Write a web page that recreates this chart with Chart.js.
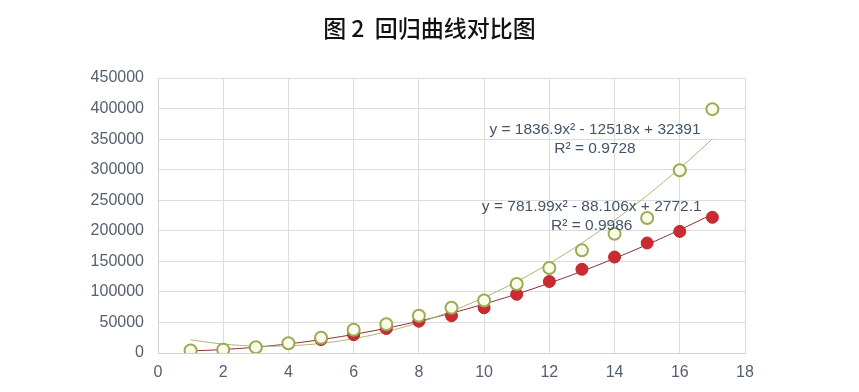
<!DOCTYPE html>
<html>
<head>
<meta charset="utf-8">
<script src="https://cdn.jsdelivr.net/npm/chart.js@4.4.1/dist/chart.umd.min.js"></script>
<style>
  html, body { margin: 0; padding: 0; background: #fff; }
  #wrap { width: 859px; height: 392px; }
</style>
</head>
<body>
<div id="wrap"><canvas id="chart" width="859" height="392"></canvas></div>
<script>
// Data
const xValues = [1, 2, 3, 4, 5, 6, 7, 8, 9, 10, 11, 12, 13, 14, 15, 16, 17];
const greenValues = [4000, 5500, 9500, 16000, 25000, 38000, 47000, 61000, 74000, 86000, 113000, 139000, 168000, 195000, 221000, 299000, 399000];
const redValues = [3500, 6000, 9000, 15500, 22000, 30000, 40000, 52000, 61000, 74000, 96000, 117000, 137000, 157000, 180000, 199000, 222000];

// Trendline coefficients as printed on the chart (a, b, c of ax^2 + bx + c)
const greenFit = [1836.9, -12518, 32391];
const redFit = [781.99, -88.106, 2772.1];
const greenLabel = ['y = 1836.9x² - 12518x + 32391', 'R² = 0.9728'];
const redLabel = ['y = 781.99x² - 88.106x + 2772.1', 'R² = 0.9986'];
const greenLabelAt = [13.4, 365000];
const redLabelAt = [13.3, 240000];
const titleText = '图 2  回归曲线对比图';

const toPoints = (ys) => xValues.map((x, i) => ({ x: x, y: ys[i] }));

// curve of the printed trendline, sampled along the x range
function trendPoints(c) {
  const pts = [];
  for (let x = xValues[0]; x <= xValues[xValues.length - 1] + 1e-9; x += 0.25) {
    pts.push({ x: x, y: c[0] * x * x + c[1] * x + c[2] });
  }
  return pts;
}

// title centred on the whole canvas, trendline equations in data coordinates
const labelPlugin = {
  id: 'trendLabels',
  afterDatasetsDraw(chart) {
    const ctx = chart.ctx;
    const xs = chart.scales.x, ys = chart.scales.y;
    ctx.save();
    ctx.textAlign = 'center';
    ctx.textBaseline = 'middle';
    ctx.fillStyle = '#111';
    ctx.font = '500 23px "Noto Sans CJK SC", sans-serif';
    ctx.fillText(titleText, chart.width / 2, 28);

    ctx.fillStyle = '#44546a';
    ctx.font = '15.5px "Liberation Sans", Arial, sans-serif';
    [[greenLabel, greenLabelAt], [redLabel, redLabelAt]].forEach(([lines, at]) => {
      const px = xs.getPixelForValue(at[0]);
      const py = ys.getPixelForValue(at[1]);
      lines.forEach((t, i) => ctx.fillText(t, px, py + i * 19));
    });
    ctx.restore();
  }
};

const tickFont = { family: '"Liberation Sans", Arial, sans-serif', size: 16 };

const ctx = document.getElementById('chart').getContext('2d');
new Chart(ctx, {
  type: 'scatter',
  data: {
    datasets: [
      {
        label: 'green',
        data: toPoints(greenValues),
        pointRadius: 6,
        pointBorderWidth: 2,
        pointBorderColor: '#9aab55',
        pointBackgroundColor: '#fbfbea',
        order: 1,
      },
      {
        label: 'red',
        data: toPoints(redValues),
        pointRadius: 6,
        pointBorderWidth: 1,
        pointBorderColor: '#b52a2f',
        pointBackgroundColor: '#cc2a30',
        order: 2,
      },
      {
        label: 'green trend',
        data: trendPoints(greenFit),
        showLine: true,
        pointRadius: 0,
        borderColor: '#a8b870',
        borderWidth: 1,
        tension: 0.3,
        order: 3,
      },
      {
        label: 'red trend',
        data: trendPoints(redFit),
        showLine: true,
        pointRadius: 0,
        borderColor: '#8a2a2e',
        borderWidth: 1,
        tension: 0.3,
        order: 4,
      },
    ],
  },
  options: {
    responsive: false,
    animation: false,
    layout: { padding: { left: 0, right: 114, top: 78, bottom: 0 } },
    plugins: {
      legend: { display: false },
      tooltip: { enabled: false },
    },
    scales: {
      x: {
        type: 'linear',
        min: 0,
        max: 18,
        ticks: { stepSize: 2, color: '#56606e', font: tickFont, padding: 10 },
        grid: { color: '#dcdcdc', drawTicks: false },
        border: { color: '#d0d0d0' },
        afterFit: (s) => { s.height = 39; },
      },
      y: {
        min: 0,
        max: 450000,
        ticks: {
          stepSize: 50000,
          color: '#56606e',
          font: tickFont,
          padding: 14,
          callback: (v) => String(v),
        },
        grid: { color: '#dcdcdc', drawTicks: false },
        border: { color: '#d0d0d0' },
        afterFit: (s) => { s.width = 158; },
      },
    },
  },
  plugins: [labelPlugin],
});
</script>
</body>
</html>
